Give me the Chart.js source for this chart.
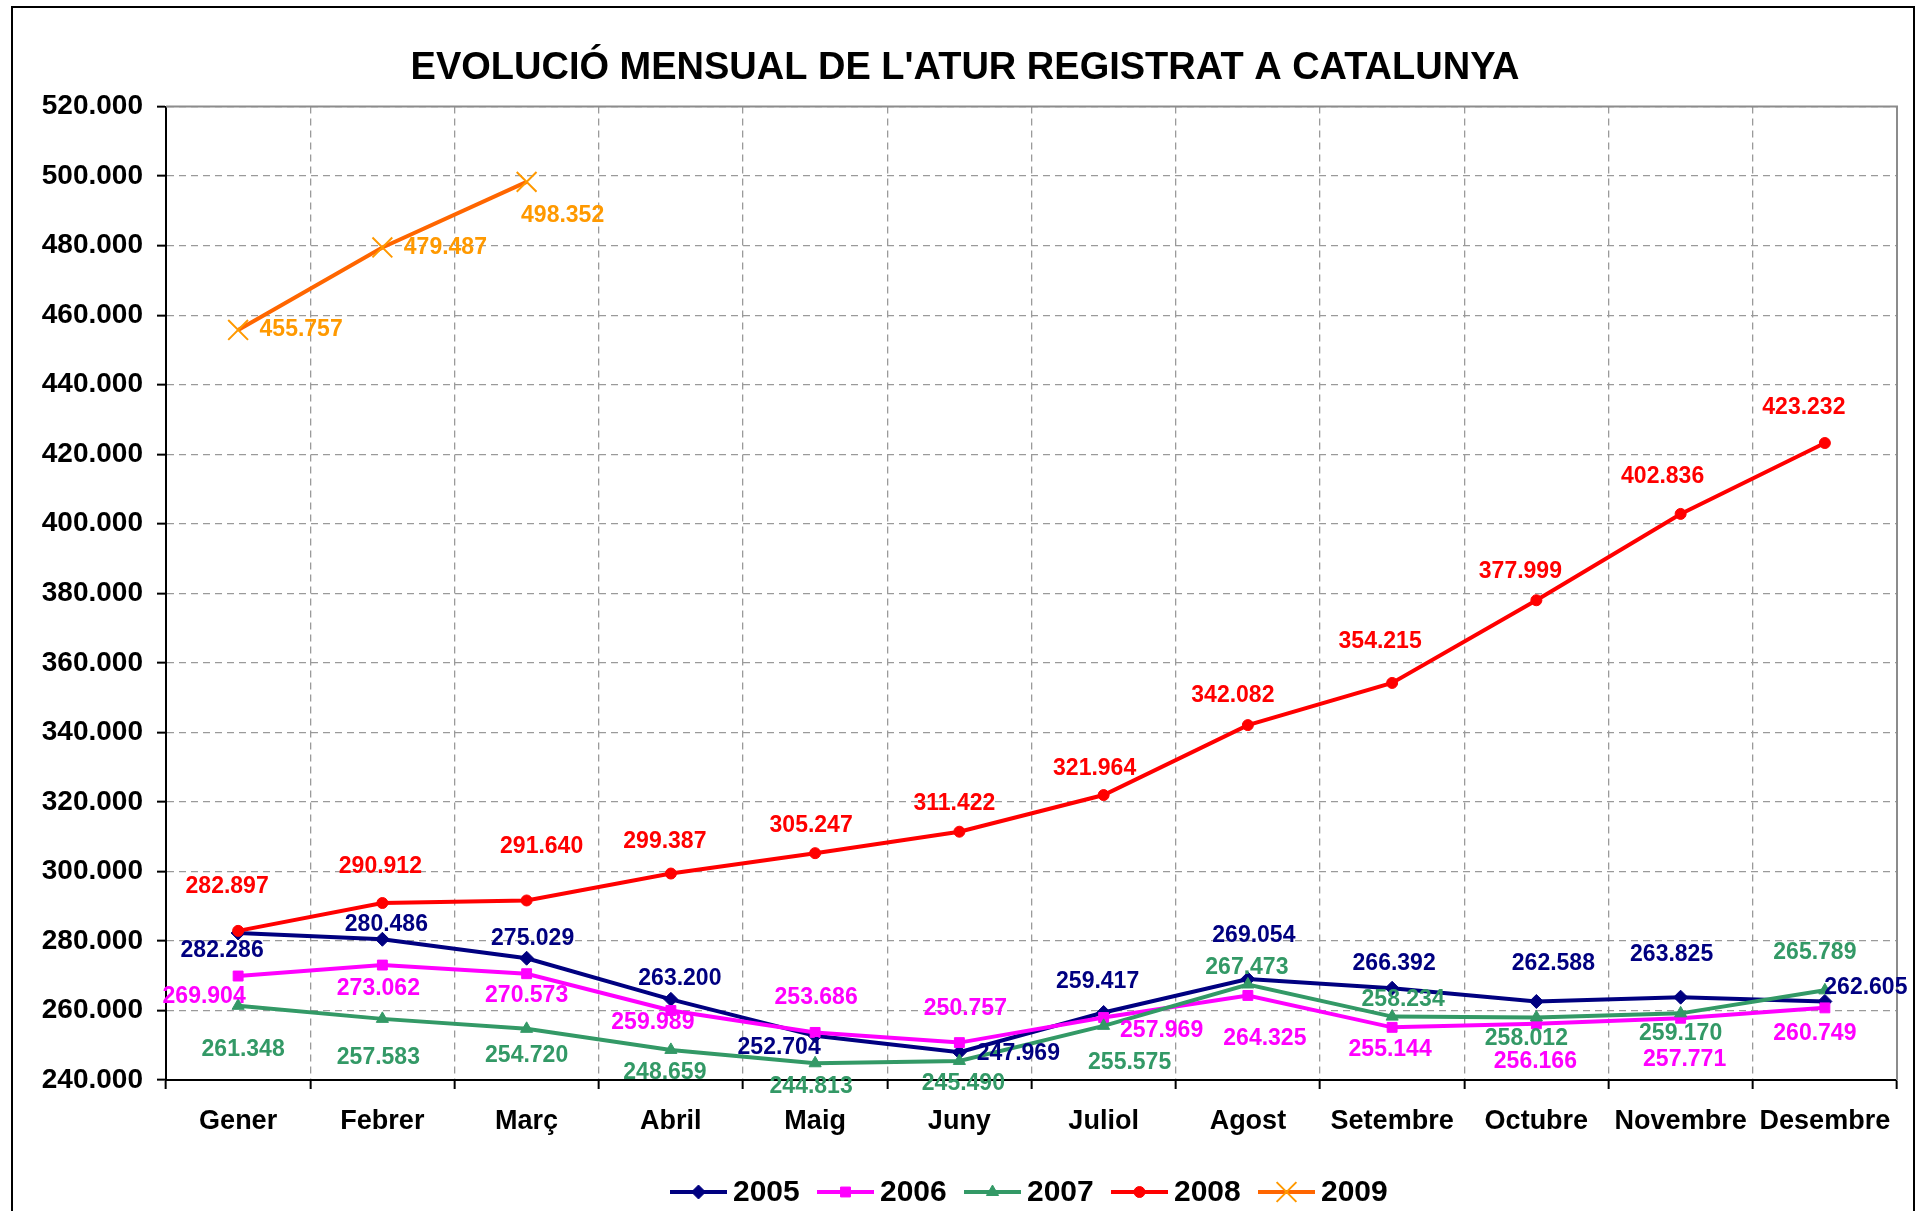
<!DOCTYPE html>
<html>
<head>
<meta charset="utf-8">
<script src="https://cdn.jsdelivr.net/npm/chart.js@4.4.1/dist/chart.umd.min.js"></script>
<style>
  html, body { margin: 0; padding: 0; background: #fff; overflow: hidden; }
  #wrap { position: relative; width: 1927px; height: 1211px; }
  #frame { position: absolute; left: 11px; top: 6px; width: 1900px; height: 1300px; border: 2px solid #000; pointer-events: none; }
  canvas { position: absolute; left: 0; top: 0; }
</style>
</head>
<body>
<div id="wrap">
  <canvas id="aturChart" width="1927" height="1211"></canvas>
  <div id="frame"></div>
</div>
<script>
// Data
const months = ['Gener', 'Febrer', 'Març', 'Abril', 'Maig', 'Juny', 'Juliol', 'Agost', 'Setembre', 'Octubre', 'Novembre', 'Desembre'];
const atur2005 = [282286, 280486, 275029, 263200, 252704, 247969, 259417, 269054, 266392, 262588, 263825, 262605];
const atur2006 = [269904, 273062, 270573, 259989, 253686, 250757, 257969, 264325, 255144, 256166, 257771, 260749];
const atur2007 = [261348, 257583, 254720, 248659, 244813, 245490, 255575, 267473, 258234, 258012, 259170, 265789];
const atur2008 = [282897, 290912, 291640, 299387, 305247, 311422, 321964, 342082, 354215, 377999, 402836, 423232];
const atur2009 = [455757, 479487, 498352, null, null, null, null, null, null, null, null, null];
const yMin = 240000;
const yMax = 520000;
const yStep = 20000;

// label placement (dx, dy from the point), like Excel's hand-moved labels
const offsets2005 = [[-16, 18], [4, -15], [6, -20], [9, -21], [-36, 12], [59, 1], [-6, -31], [6, -43], [2, -25], [17, -38], [-9, -43], [41, -14]];
const offsets2006 = [[-34, 21], [-4, 24], [0, 22], [-18, 12], [1, -35], [6, -34], [58, 13], [17, 43], [-2, 22], [-1, 38], [4, 41], [-10, 26]];
const offsets2007 = [[5, 44], [-4, 39], [0, 27], [-6, 23], [-4, 23], [4, 23], [26, 37], [-1, -17], [11, -17], [-10, 21], [0, 20], [-10, -38]];
const offsets2008 = [[-11, -44], [-2, -36], [15, -54], [-6, -32], [-4, -28], [-5, -28], [-9, -26], [-15, -29], [-12, -41], [-16, -29], [-18, -37], [-21, -35]];
const offsets2009 = [[63, 0], [63, 0], [36, 34]];

const FONT = '"Liberation Sans", Arial, sans-serif';

const fmt = v => String(Math.round(v)).replace(/\B(?=(\d{3})+(?!\d))/g, '.');

// Value labels next to each point
const valueLabels = {
  id: 'valueLabels',
  afterDatasetsDraw(chart) {
    const ctx = chart.ctx;
    ctx.save();
    ctx.font = 'bold 23px ' + FONT;
    ctx.textAlign = 'center';
    ctx.textBaseline = 'middle';
    chart.data.datasets.forEach((ds, i) => {
      const meta = chart.getDatasetMeta(i);
      meta.data.forEach((pt, j) => {
        if (ds.data[j] == null) return;
        const off = ds.labelOffsets[j];
        ctx.fillStyle = ds.labelColor;
        ctx.fillText(fmt(ds.data[j]), pt.x + off[0], pt.y + off[1]);
      });
    });
    ctx.restore();
  }
};

// Gray plot-area frame (top and right)
const plotFrame = {
  id: 'plotFrame',
  beforeDatasetsDraw(chart) {
    const { ctx, chartArea: a } = chart;
    ctx.save();
    ctx.strokeStyle = '#8c8c8c';
    ctx.lineWidth = 2;
    ctx.beginPath();
    ctx.moveTo(a.left, a.top);
    ctx.lineTo(a.right, a.top);
    ctx.lineTo(a.right, a.bottom);
    ctx.stroke();
    ctx.restore();
  }
};

// Legend with line + marker, like Excel
const lineLegend = {
  id: 'lineLegend',
  afterDraw(chart) {
    const ctx = chart.ctx;
    const y = 1192;
    let x = 670;
    ctx.save();
    ctx.font = 'bold 30px ' + FONT;
    ctx.textBaseline = 'middle';
    ctx.textAlign = 'left';
    chart.data.datasets.forEach(ds => {
      ctx.strokeStyle = ds.borderColor;
      ctx.lineWidth = 4;
      ctx.beginPath();
      ctx.moveTo(x, y);
      ctx.lineTo(x + 57, y);
      ctx.stroke();
      ctx.fillStyle = ds.pointBackgroundColor;
      ctx.strokeStyle = ds.pointBorderColor;
      ctx.lineWidth = ds.pointBorderWidth;
      Chart.helpers.drawPoint(ctx, {
        pointStyle: ds.pointStyle,
        radius: ds.pointRadius,
        rotation: 0,
        borderWidth: ds.pointBorderWidth
      }, x + 28.5, y);
      ctx.fillStyle = '#000';
      ctx.fillText(ds.label, x + 63, y + 1);
      x += 147;
    });
    ctx.restore();
  }
};

const series = (label, data, color, markerColor, pointStyle, radius, offsets, labelColor, order) => ({
  label,
  data,
  borderColor: color,
  backgroundColor: markerColor,
  pointBackgroundColor: markerColor,
  pointBorderColor: markerColor,
  pointBorderWidth: pointStyle === 'crossRot' ? 2 : 1,
  pointStyle,
  pointRadius: radius,
  borderWidth: 4,
  tension: 0,
  spanGaps: false,
  labelOffsets: offsets,
  labelColor,
  order
});

const ctx = document.getElementById('aturChart').getContext('2d');
new Chart(ctx, {
  type: 'line',
  data: {
    labels: months,
    datasets: [
      series('2005', atur2005, '#000080', '#000080', 'rectRot', 7, offsets2005, '#000080', 5),
      series('2006', atur2006, '#FF00FF', '#FF00FF', 'rect', 7, offsets2006, '#FF00FF', 4),
      series('2007', atur2007, '#339966', '#339966', 'triangle', 7, offsets2007, '#339966', 3),
      series('2008', atur2008, '#FF0000', '#FF0000', 'circle', 5.5, offsets2008, '#FF0000', 2),
      series('2009', atur2009, '#FF6600', '#FF9900', 'crossRot', 14, offsets2009, '#FF9900', 1)
    ]
  },
  options: {
    responsive: false,
    animation: false,
    layout: { padding: { left: 33, right: 30, top: 0, bottom: 0 } },
    plugins: {
      legend: { display: false },
      tooltip: { enabled: false },
      title: {
        display: true,
        text: "EVOLUCIÓ MENSUAL DE L'ATUR REGISTRAT A CATALUNYA",
        color: '#000',
        font: { family: FONT, size: 38, weight: 'bold' },
        padding: { top: 46, bottom: 15 }
      }
    },
    scales: {
      x: {
        offset: true,
        afterFit: s => { s.height = 131; },
        grid: {
          offset: true,
          color: '#9a9a9a',
          lineWidth: 1.3,
          tickLength: 9,
          tickColor: '#000',
          tickWidth: 2,
          tickBorderDash: []
        },
        border: { display: true, color: '#000', width: 2, dash: [7, 5] },
        ticks: {
          color: '#000',
          padding: 16,
          font: { family: FONT, size: 27, weight: 'bold' },
          maxRotation: 0,
          autoSkip: false
        }
      },
      y: {
        min: yMin,
        max: yMax,
        afterFit: s => { s.width = 133; },
        grid: {
          color: '#9a9a9a',
          lineWidth: 1.3,
          tickLength: 9,
          tickColor: '#000',
          tickWidth: 2,
          tickBorderDash: []
        },
        border: { display: true, color: '#000', width: 2, dash: [7, 5] },
        ticks: {
          stepSize: yStep,
          color: '#000',
          padding: 14,
          font: { family: FONT, size: 28, weight: 'bold' },
          callback: v => fmt(v)
        }
      }
    }
  },
  plugins: [plotFrame, valueLabels, lineLegend]
});
</script>
</body>
</html>
